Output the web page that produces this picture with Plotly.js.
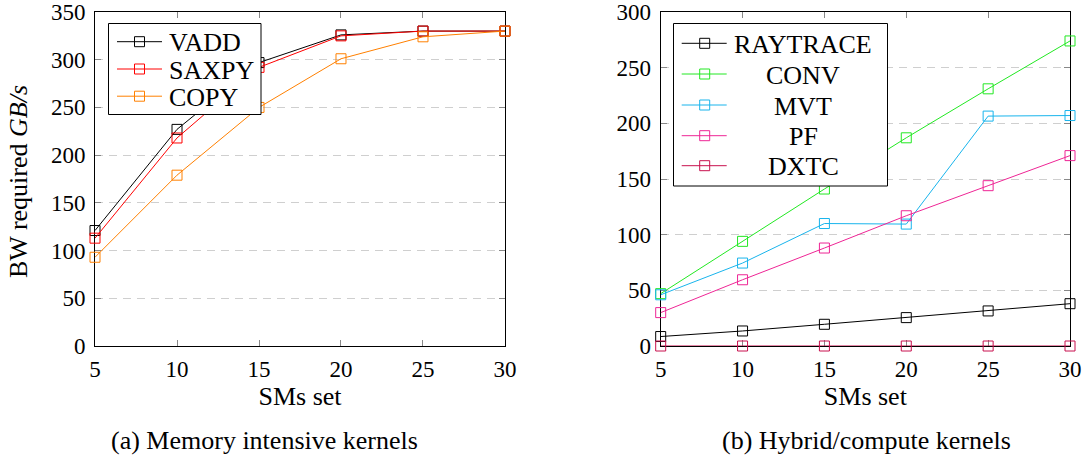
<!DOCTYPE html>
<html>
<head>
<meta charset="utf-8">
<script src="https://cdn.plot.ly/plotly-3.0.1.min.js"></script>
<style>
  html, body { margin: 0; padding: 0; background: #ffffff; }
  #chart { width: 1088px; height: 457px; }
</style>
</head>
<body>
<div id="chart"></div>
<script>
// ---- data ----
const smsSet = [5, 10, 15, 20, 25, 30];
const xTickVals = [5, 10, 15, 20, 25, 30];

// (a) Memory intensive kernels
const vadd  = [121, 227, 297, 326, 330, 330];
const saxpy = [113, 218, 292, 325, 330, 330];
const copy  = [93, 179, 250, 301, 324, 330];

// (b) Hybrid/compute kernels
const raytrace = [8.5, 13.5, 19.5, 25.5, 31.5, 38];
const conv     = [47, 94, 141, 187, 231, 274];
const mvt      = [46, 74.5, 110, 109.5, 206.5, 207];
const pf       = [30, 59.5, 88, 117, 144, 171];
const dxtc     = [0, 0, 0, 0, 0, 0];

const leftNames  = ['VADD', 'SAXPY', 'COPY'];
const rightNames = ['RAYTRACE', 'CONV', 'MVT', 'PF', 'DXTC'];

const captionA = '(a) Memory intensive kernels';
const captionB = '(b) Hybrid/compute kernels';
const xTitle = 'SMs set';
const yTitle = 'BW required <i>GB/s</i>';

// ---- styling ----
const FONT = 'Liberation Serif, Times New Roman, serif';
const TICK_SIZE = 23;
const TEXT_SIZE = 26;
const leftColors  = ['#000000', '#ff0000', '#ff8000'];
const rightColors = ['#000000', '#22e822', '#18b4ec', '#ee2595', '#c8104e'];

// page geometry (pixels) used to place the hand-drawn legends and labels
const M = { l: 95, r: 18, t: 12, b: 111 };
const PW = 1088 - M.l - M.r, PH = 457 - M.t - M.b;
const px2x = px => (px - M.l) / PW;
const px2y = py => (457 - M.b - py) / PH;

function series(y, name, color, xa, ya) {
  return {
    type: 'scatter', mode: 'lines+markers',
    x: smsSet, y: y, name: name,
    xaxis: xa, yaxis: ya, showlegend: false,
    cliponaxis: false,
    line: { color: color, width: 1 },
    marker: { symbol: 'square-open', size: 10, color: color, line: { color: color, width: 1 } }
  };
}

const leftSeries = [vadd, saxpy, copy];
const rightSeries = [raytrace, conv, mvt, pf, dxtc];
const data = [];
leftSeries.forEach((s, i) => data.push(series(s, leftNames[i], leftColors[i], 'x', 'y')));
rightSeries.forEach((s, i) => data.push(series(s, rightNames[i], rightColors[i], 'x2', 'y2')));

function xAxis(domain, anchor) {
  return {
    domain: domain, anchor: anchor, range: [5, 30], layer: 'below traces',
    tickvals: xTickVals, ticks: 'inside', ticklen: 6, tickcolor: '#888888', tickwidth: 1,
    showline: true, linecolor: '#000000', linewidth: 1, mirror: 'ticks',
    showgrid: false, zeroline: false,
    tickfont: { family: FONT, size: TICK_SIZE, color: '#000000' },
    ticklabelstandoff: 2,
    title: { text: xTitle, font: { family: FONT, size: TEXT_SIZE, color: '#000000' }, standoff: 6 }
  };
}
function yAxis(range, anchor) {
  return {
    domain: [0, 1], anchor: anchor, range: range, dtick: 50, tick0: 0, layer: 'below traces',
    ticks: 'inside', ticklen: 6, tickcolor: '#888888', tickwidth: 1,
    showline: true, linecolor: '#000000', linewidth: 1, mirror: 'ticks',
    showgrid: true, gridcolor: '#cfcfcf', gridwidth: 1, griddash: '8px,6px',
    zeroline: false,
    tickfont: { family: FONT, size: TICK_SIZE, color: '#000000' },
    ticklabelstandoff: 4
  };
}

// ---- hand-drawn legends (box, sample line, square glyph, label) ----
const shapes = [];
const annotations = [
  { text: yTitle, xref: 'paper', yref: 'paper', x: px2x(18), y: px2y(182), textangle: -90,
    xanchor: 'center', yanchor: 'middle', showarrow: false,
    font: { family: FONT, size: TEXT_SIZE, color: '#000000' } },
  { text: captionA, xref: 'paper', yref: 'paper', x: px2x(264), y: px2y(440), xanchor: 'center', yanchor: 'middle', showarrow: false,
    font: { family: FONT, size: TEXT_SIZE, color: '#000000' } },
  { text: captionB, xref: 'paper', yref: 'paper', x: px2x(866), y: px2y(440), xanchor: 'center', yanchor: 'middle', showarrow: false,
    font: { family: FONT, size: TEXT_SIZE, color: '#000000' } }
];

function addLegend(box, rows, names, colors, lineX, sqX, textX, textAnchor) {
  shapes.push({ type: 'rect', xref: 'paper', yref: 'paper', layer: 'above',
    x0: px2x(box[0]), x1: px2x(box[1]), y0: px2y(box[2]), y1: px2y(box[3]),
    line: { color: '#000000', width: 1 }, fillcolor: '#ffffff' });
  names.forEach((n, i) => {
    const cy = rows[i], c = colors[i];
    shapes.push({ type: 'line', xref: 'paper', yref: 'paper', layer: 'above',
      x0: px2x(lineX[0]), x1: px2x(lineX[1]), y0: px2y(cy), y1: px2y(cy), line: { color: c, width: 1 } });
    shapes.push({ type: 'rect', xref: 'paper', yref: 'paper', layer: 'above',
      x0: px2x(sqX - 5), x1: px2x(sqX + 5), y0: px2y(cy - 5), y1: px2y(cy + 5), line: { color: c, width: 1 } });
    annotations.push({ text: n, xref: 'paper', yref: 'paper', x: px2x(textX), y: px2y(cy + 1),
      xanchor: textAnchor, yanchor: 'middle', showarrow: false,
      font: { family: FONT, size: TEXT_SIZE, color: '#000000' } });
  });
}
addLegend([108.5, 261, 23.5, 114.5], [41.7, 69.0, 96.2], leftNames, leftColors, [117, 162], 139.5, 167, 'left');
addLegend([673.5, 887.5, 23.5, 186], [43.3, 74, 105, 135.7, 165.7], rightNames, rightColors, [681.7, 726.7], 704.7, 803.3, 'center');

const layout = {
  width: 1088, height: 457,
  margin: M,
  paper_bgcolor: '#ffffff', plot_bgcolor: '#ffffff',
  showlegend: false,
  xaxis: xAxis([0, 0.4205], 'y'),
  yaxis: yAxis([0, 350], 'x'),
  xaxis2: xAxis([0.5802, 1], 'y2'),
  yaxis2: yAxis([0, 300], 'x2'),
  shapes: shapes,
  annotations: annotations
};

Plotly.newPlot('chart', data, layout, { displayModeBar: false, staticPlot: true });
</script>
</body>
</html>
